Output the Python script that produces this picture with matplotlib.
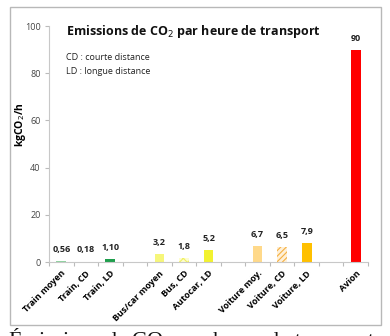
import numpy as np
import matplotlib
matplotlib.use("Agg")
import matplotlib.pyplot as plt
from matplotlib.patches import Rectangle

plt.rcParams['hatch.linewidth'] = 0.8

# categories ("" = empty slot between groups)
categories = ["Train moyen", "Train, CD", "Train, LD", "",
              "Bus/car moyen", "Bus, CD", "Autocar, LD", "",
              "Voiture moy.", "Voiture, CD", "Voiture, LD", "",
              "Avion"]
values = [0.56, 0.18, 1.10, np.nan,
          3.2, 1.8, 5.2, np.nan,
          6.7, 6.5, 7.9, np.nan,
          90]
value_labels = ["0,56", "0,18", "1,10", "",
                "3,2", "1,8", "5,2", "",
                "6,7", "6,5", "7,9", "",
                "90"]
colors = ["#8fd3a0", "#ffffff", "#1e9e4c", "#ffffff",
          "#f6f67a", "#fdfdd0", "#f2f230", "#ffffff",
          "#ffd98a", "#fff0d8", "#ffc000", "#ffffff",
          "#ff0000"]
hatches = [None, "....", None, None,
           None, "xxxx", None, None,
           None, "//////", None, None,
           None]
hatch_colors = [None, "#4cbf6c", None, None,
                None, "#f0f060", None, None,
                None, "#f5b040", None, None,
                None]

fig = plt.figure(figsize=(3.9, 3.36), dpi=100)
fig.patch.set_facecolor("white")

# outer frame
fig.patches.append(Rectangle((10 / 390, 1 - 325 / 336), 371 / 390, 318 / 336,
                             transform=fig.transFigure, fill=False,
                             edgecolor="#b8b8b8", linewidth=1.0))

ax = fig.add_axes([49 / 390, 74 / 336, 319 / 390, 236 / 336])
x = np.arange(len(categories))
for i in range(len(categories)):
    if np.isnan(values[i]):
        continue
    if hatches[i]:
        ax.bar(x[i], values[i], width=0.4, color=colors[i],
               edgecolor=hatch_colors[i], hatch=hatches[i], linewidth=0)
    else:
        ax.bar(x[i], values[i], width=0.4, color=colors[i], linewidth=0)
    ax.text(x[i], values[i] + 3, value_labels[i], ha="center", va="bottom",
            fontsize=6.5, fontweight="bold", family="Open Sans", color="#222222")

ax.set_xlim(-0.5, len(categories) - 0.5)
ax.set_ylim(0, 100)
ax.set_yticks(np.arange(0, 101, 20))
ax.tick_params(axis="y", labelsize=6.5, colors="#bbbbbb", labelcolor="#444444",
               length=3, width=0.8, pad=3)
ax.set_xticks(x)
ax.set_xticklabels(categories, rotation=45, ha="right", rotation_mode="anchor",
                   fontsize=6.5, fontweight="bold", family="Open Sans")
ax.tick_params(axis="x", length=0, pad=5)
ax.set_xticks(np.arange(-0.5, len(categories), 1), minor=True)
ax.tick_params(axis="x", which="minor", length=3, width=0.8, colors="#bbbbbb")
for s in ["top", "right"]:
    ax.spines[s].set_visible(False)
for s in ["left", "bottom"]:
    ax.spines[s].set_color("#c8c8c8")
    ax.spines[s].set_linewidth(0.8)
for lbl in ax.get_yticklabels():
    lbl.set_family("Open Sans")

ax.set_ylabel("kgCO$_2$/h", fontsize=7.5, fontweight="bold", family="Open Sans")
ax.yaxis.set_label_coords(-0.065, 0.58)

fig.text(66 / 390, 1 - 32 / 336, "Emissions de CO$_2$ par heure de transport",
         fontsize=9, fontweight="bold", family="Open Sans", va="center",
         color="#111111")
fig.text(66 / 390, 1 - 57 / 336, "CD : courte distance", fontsize=6.5,
         family="Open Sans", va="center", color="#222222")
fig.text(66 / 390, 1 - 72 / 336, "LD : longue distance", fontsize=6.5,
         family="Open Sans", va="center", color="#222222")

# caption below the frame (cut off by the image edge)
fig.text(8 / 390, 1 - 326 / 336, "Émissions de CO$_2$ par heure de transport en",
         fontsize=16, family="Liberation Serif", va="top", color="#111111")

fig.savefig("out.png", dpi=100)
